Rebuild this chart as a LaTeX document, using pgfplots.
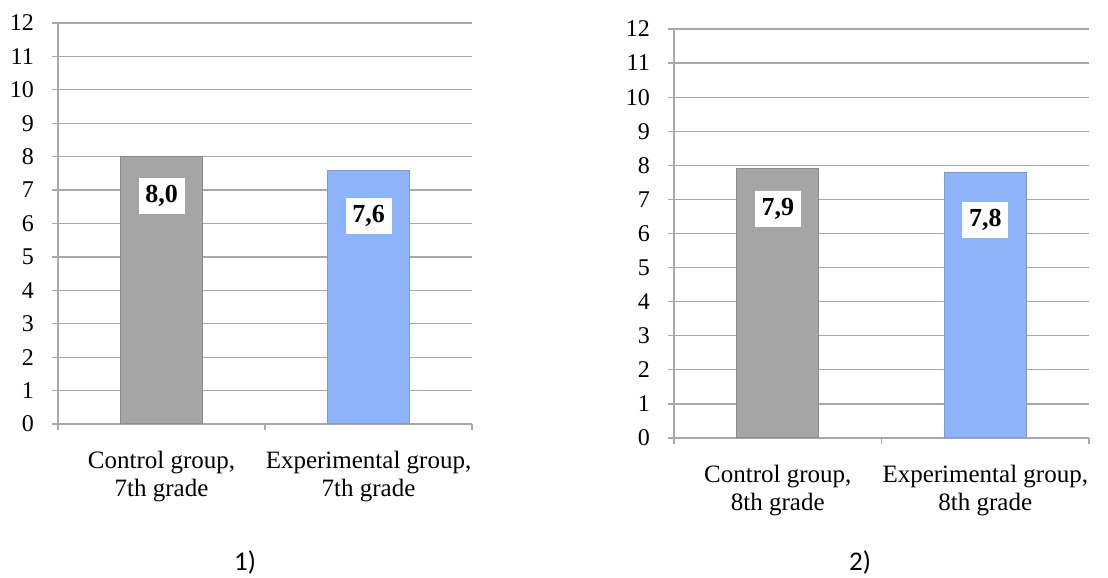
\documentclass[border=0pt]{standalone}
\usepackage{pgfplots}
\pgfplotsset{compat=1.18}
\usepackage{fontspec}
\setmainfont{Liberation Serif}
\newfontfamily\capfont{Carlito}

\definecolor{barGrey}{HTML}{A5A5A5}
\definecolor{barGreyEdge}{HTML}{8C8C8C}
\definecolor{barBlue}{HTML}{8DB4F8}
\definecolor{barBlueEdge}{HTML}{7D9BD0}
\definecolor{gridGrey}{HTML}{A8A8A8}

\tikzset{
  vallabel/.style={fill=white, font=\fontsize{26bp}{28bp}\selectfont\bfseries,
    minimum width=46bp, minimum height=36bp, inner sep=0pt, anchor=center},
}

\pgfplotsset{
  gradechart/.style={
    scale only axis,
    axis lines*=left,
    axis line style={gridGrey, line width=1.2bp},
    ymin=0, ymax=12,
    ytick={0,1,...,12},
    xmin=-0.5, xmax=1.5,
    xtick={-0.5,0.5,1.5},
    xticklabels={},
    tick style={gridGrey, line width=1.2bp},
    tick align=outside,
    major tick length=6bp,
    ymajorgrids,
    grid style={gridGrey, line width=1.2bp},
    /pgf/number format/assume math mode=true,
    yticklabel style={font=\fontsize{24bp}{27bp}\selectfont, anchor=east, inner sep=0pt, xshift=-18bp},
    xticklabel style={font=\fontsize{25bp}{28bp}\selectfont, align=center, anchor=north, inner sep=0pt, yshift=-27bp},
    extra x ticks={0,1},
    extra x tick style={grid=none, major tick length=0pt},
    ybar, bar width=82bp,
    clip=false,
  },
}

\begin{document}
\begin{tikzpicture}[x=1bp,y=1bp]
\useasboundingbox (0,0) rectangle (1108,578);

% 1) 7th grade
\begin{axis}[gradechart, at={(58bp,154bp)}, anchor=south west,
  width=414bp, height=401bp,
  extra x tick labels={{Control group,\\7th grade},{Experimental group,\\7th grade}}]
  \addplot[bar shift=0pt, fill=barGrey, draw=barGreyEdge, line width=1bp] coordinates {(0,8.0)};
  \addplot[bar shift=0pt, fill=barBlue, draw=barBlueEdge, line width=1bp] coordinates {(1,7.6)};
  \node[vallabel] at (axis cs:0,6.83) {8,0};
  \node[vallabel] at (axis cs:1,6.23) {7,6};
\end{axis}

% 2) 8th grade
\begin{axis}[gradechart, at={(674bp,140bp)}, anchor=south west,
  width=415bp, height=409bp,
  extra x tick labels={{Control group,\\8th grade},{Experimental group,\\8th grade}}]
  \addplot[bar shift=0pt, fill=barGrey, draw=barGreyEdge, line width=1bp] coordinates {(0,7.9)};
  \addplot[bar shift=0pt, fill=barBlue, draw=barBlueEdge, line width=1bp] coordinates {(1,7.8)};
  \node[vallabel] at (axis cs:0,6.72) {7,9};
  \node[vallabel] at (axis cs:1,6.40) {7,8};
\end{axis}

\node[font=\capfont\fontsize{27bp}{30bp}\selectfont] at (245,15) {1)};
\node[font=\capfont\fontsize{27bp}{30bp}\selectfont] at (860,15) {2)};
\end{tikzpicture}
\end{document}
